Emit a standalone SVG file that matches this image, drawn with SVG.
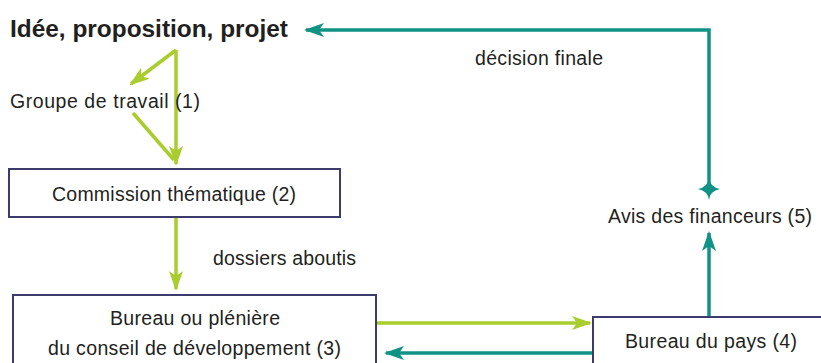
<svg xmlns="http://www.w3.org/2000/svg" width="821" height="363" viewBox="0 0 821 363">
<style>
text{font-family:"Liberation Sans",Arial,sans-serif;fill:#231f20;font-size:19.5px}
.t{font-weight:bold;font-size:24.5px}
.box{fill:#fff;stroke:#3d3b6b;stroke-width:2}
.g{stroke:#a9cd2c;stroke-width:3.5;fill:none}
.c{stroke:#109284;stroke-width:3.5;fill:none}
</style>
<defs>
<marker id="ag" viewBox="0 0 20 14" refX="18" refY="7" markerWidth="20" markerHeight="14" markerUnits="userSpaceOnUse" orient="auto">
<path d="M0,0 L20,7 L0,14 L5,7 Z" fill="#a9cd2c"/>
</marker>
<marker id="ac" viewBox="0 0 20 14" refX="18" refY="7" markerWidth="20" markerHeight="14" markerUnits="userSpaceOnUse" orient="auto">
<path d="M0,0 L20,7 L0,14 L5,7 Z" fill="#109284"/>
</marker>
</defs>
<g id="connectors">
<path class="g" d="M176,50 L131,84" marker-end="url(#ag)"/>
<path class="g" d="M176,50 L176,164" marker-end="url(#ag)"/>
<path class="g" d="M133,113 L174,160"/>
<path class="g" d="M176,217 L176,289" marker-end="url(#ag)"/>
<path class="g" d="M376,323 L590,323" marker-end="url(#ag)"/>
<path class="c" d="M594,353 L386,353" marker-end="url(#ac)"/>
<path class="c" d="M709,317 L709,233" marker-end="url(#ac)"/>
<path class="c" d="M709,188 L709,30 L306,30" marker-end="url(#ac)"/>
<path d="M709,178 Q710,187 720,189 Q710,191 709,200 Q708,191 698,189 Q708,187 709,178 Z" fill="#109284"/>
</g>
<g id="n0"><text class="t" x="10" y="37" textLength="278" lengthAdjust="spacingAndGlyphs">Idée, proposition, projet</text></g>
<g id="n1"><text x="10" y="108" textLength="190">Groupe de travail (1)</text></g>
<g id="n2"><rect class="box" x="9" y="169" width="331" height="48"/><text x="52" y="201" textLength="244">Commission thématique (2)</text></g>
<g id="n3"><rect class="box" x="13" y="295" width="363" height="80"/><text x="110" y="325" textLength="170">Bureau ou plénière</text><text x="48" y="355" textLength="293">du conseil de développement (3)</text></g>
<g id="n4"><rect class="box" x="593" y="317" width="240" height="60"/><text x="625" y="348" textLength="172">Bureau du pays (4)</text></g>
<g id="n5"><text x="608" y="223" textLength="204">Avis des financeurs (5)</text></g>
<g id="labels"><text x="213" y="265" textLength="143">dossiers aboutis</text><text x="475" y="65" textLength="128">décision finale</text></g>
</svg>
